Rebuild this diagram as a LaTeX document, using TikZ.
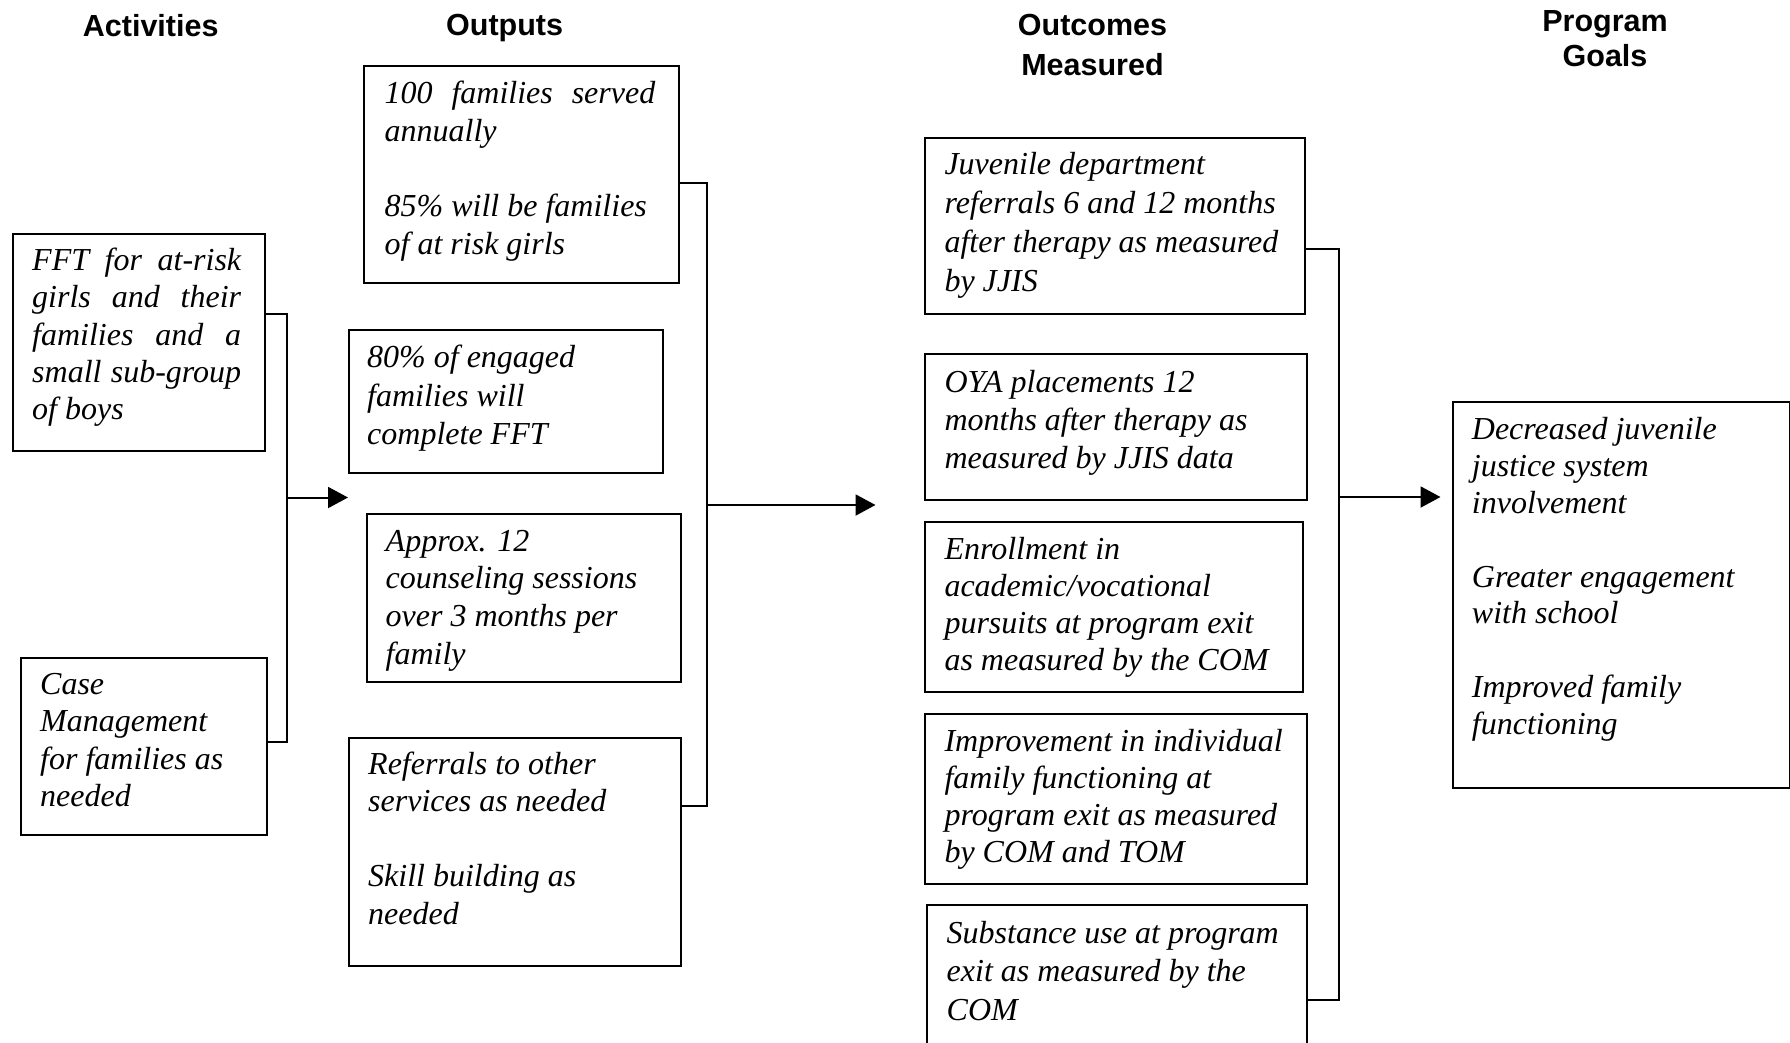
\documentclass[tikz,border=0pt]{standalone}
\usepackage{fontspec}
\setmainfont{Liberation Serif}
\newfontfamily\hdrfont{Liberation Sans}
\usetikzlibrary{arrows.meta}
\newcommand\bodyfont[1]{\itshape\fontsize{32}{#1}\selectfont}
\newcommand\hdrsize[1]{\hdrfont\bfseries\fontsize{30.5}{#1}\selectfont}
\newcommand\txtlines[1]{\begin{tabular}[t]{@{}l@{}}#1\end{tabular}}
\newcommand\hdrlines[1]{\begin{tabular}[t]{@{}c@{}}#1\end{tabular}}
\tikzset{
  box/.style={draw, line width=2pt, inner sep=0pt, anchor=north west},
  txt/.style={anchor=base west, inner sep=0pt},
  hdr/.style={anchor=base, inner sep=0pt},
  conn/.style={line width=2pt},
  arr/.style={line width=2pt, -{Triangle[length=20pt,width=21pt]}},
}
\begin{document}
\begin{tikzpicture}[x=1pt,y=-1pt]
\useasboundingbox (0,0) rectangle (1790,1042);
\clip (0,0) rectangle (1790,1042);

% headers
\node[hdr, font=\hdrsize{40}] (hA) at (150.7,36.7) {\hdrlines{Activities}};
\node[hdr, font=\hdrsize{40}] (hO) at (504.6,35.5) {\hdrlines{Outputs}};
\node[hdr, font=\hdrsize{40}] (hM) at (1092.5,35) {\hdrlines{Outcomes\\Measured}};
\node[hdr, font=\hdrsize{35}] (hG) at (1605,31.6) {\hdrlines{Program\\Goals}};

% activity boxes
\node[box, minimum width=252.5pt, minimum height=217.5pt] (a1) at (11.5,232.8) {};
\node[txt, font=\bodyfont{37.2}] (a1t) at (32,270.6)
 {\txtlines{\makebox[209pt][s]{FFT for at-risk}\\
  \makebox[209pt][s]{girls and their}\\
  \makebox[209pt][s]{families and a}\\
  \makebox[209pt][s]{small sub-group}\\
  of boys}};
\node[box, minimum width=246.2pt, minimum height=176.8pt] (a2) at (19.5,657.2) {};
\node[txt, font=\bodyfont{37.5}] (a2t) at (40,694.3)
 {\txtlines{Case\\Management\\for families as\\needed}};

% output boxes
\node[box, minimum width=315pt, minimum height=217pt] (o1) at (363,65) {};
\node[txt, font=\bodyfont{37.7}] (o1t) at (384.5,103.5)
 {\txtlines{\makebox[270.6pt][s]{100 families served}\\
  annually\\[37.7pt]
  85\% will be families\\
  of at risk girls}};
\node[box, minimum width=314pt, minimum height=143.2pt] (o2) at (348,328.8) {};
\node[txt, font=\bodyfont{38.8}] (o2t) at (367,367.3)
 {\txtlines{80\% of engaged\\families will\\complete FFT}};
\node[box, minimum width=313.5pt, minimum height=167.5pt] (o3) at (366,513) {};
\node[txt, font=\bodyfont{37.7}] (o3t) at (385.5,551)
 {\txtlines{Approx. 12\\counseling sessions\\over 3 months per\\family}};
\node[box, minimum width=332pt, minimum height=228pt] (o4) at (348,737) {};
\node[txt, font=\bodyfont{37.5}] (o4t) at (368,774)
 {\txtlines{Referrals to other\\services as needed\\[37.5pt]
  Skill building as\\needed}};

% outcome boxes
\node[box, minimum width=380.5pt, minimum height=175.5pt] (m1) at (923.5,137) {};
\node[txt, font=\bodyfont{39}] (m1t) at (944.3,174.5)
 {\txtlines{Juvenile department\\referrals 6 and 12 months\\after therapy as measured\\by JJIS}};
\node[box, minimum width=382pt, minimum height=146pt] (m2) at (923.5,352.7) {};
\node[txt, font=\bodyfont{37.8}] (m2t) at (944.3,392.7)
 {\txtlines{OYA placements 12\\months after therapy as\\measured by JJIS data}};
\node[box, minimum width=378.5pt, minimum height=170.1pt] (m3) at (923.5,520.7) {};
\node[txt, font=\bodyfont{37.3}] (m3t) at (944.3,559)
 {\txtlines{Enrollment in\\academic/vocational\\pursuits at program exit\\as measured by the COM}};
\node[box, minimum width=382pt, minimum height=170.4pt] (m4) at (923.5,712.6) {};
\node[txt, font=\bodyfont{37.3}] (m4t) at (944.3,751)
 {\txtlines{Improvement in individual\\family functioning at\\program exit as measured\\by COM and TOM}};
\node[box, minimum width=380pt, minimum height=160pt] (m5) at (925.5,904.4) {};
\node[txt, font=\bodyfont{38.7}] (m5t) at (946.5,943)
 {\txtlines{Substance use at program\\exit as measured by the\\COM}};

% goals box
\node[box, minimum width=337.5pt, minimum height=386.4pt] (g) at (1451.5,400.6) {};
\node[txt, font=\bodyfont{36.8}] (gt) at (1471.7,439.8)
 {\txtlines{Decreased juvenile\\justice system\\involvement\\[36.8pt]
  Greater engagement\\with school\\[36.8pt]
  Improved family\\functioning}};

% connector junctions and arrow ends
\coordinate (busA) at (287,497.5);
\coordinate (endA) at (348,497.5);
\coordinate (busO) at (706.7,505);
\coordinate (endO) at (875.5,505);
\coordinate (busM) at (1338.5,497);
\coordinate (endM) at (1440.5,497);

\draw[conn] ([yshift=-80.9pt]a1.north east) -| (busA) |- ([yshift=-84.5pt]a2.north east);
\draw[arr] (busA) -- (endA);

\draw[conn] ([yshift=-118pt]o1.north east) -| (busO) |- ([yshift=-69pt]o4.north east);
\draw[arr] (busO) -- (endO);

\draw[conn] ([yshift=-112pt]m1.north east) -| (busM) |- ([yshift=-95.8pt]m5.north east);
\draw[arr] (busM) -- (endM);
\end{tikzpicture}
\end{document}
